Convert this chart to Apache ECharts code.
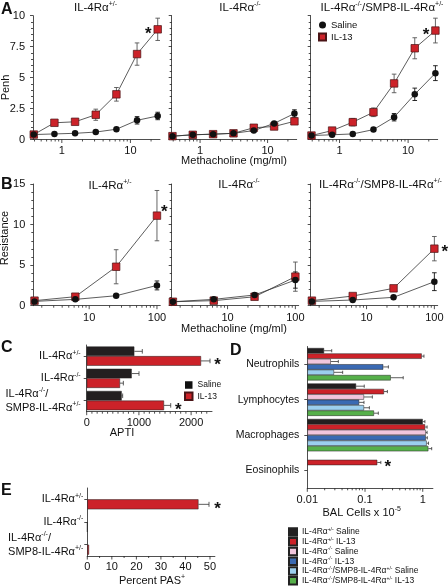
<!DOCTYPE html>
<html><head><meta charset="utf-8">
<script src="https://cdn.jsdelivr.net/npm/echarts@6/dist/echarts.min.js"></script>
<style>html,body{margin:0;padding:0;background:#fff}#c{width:448px;height:587px}</style>
</head><body><div id="c"></div>
<script>
const FONT = "'Liberation Sans', Arial, Helvetica, sans-serif";

// ---------- Panel A: Penh vs methacholine (mg/ml) ----------
const dosesA = [0.39, 0.78, 1.56, 3.125, 6.25, 12.5, 25];
const penhHetSaline    = [0.40, 0.45, 0.50, 0.60, 0.83, 1.55, 1.90];
const penhHetSalineErr = [0, 0, 0, 0.08, 0.10, 0.30, 0.30];
const penhHetIL13      = [0.40, 1.35, 1.43, 2.00, 3.65, 6.90, 8.90];
const penhHetIL13Err   = [0.08, 0.10, 0.15, 0.45, 0.55, 0.90, 0.90];
const penhKoSaline     = [0.27, 0.38, 0.43, 0.50, 0.72, 1.30, 2.10];
const penhKoSalineErr  = [0, 0, 0, 0, 0.08, 0.12, 0.30];
const penhKoIL13       = [0.27, 0.38, 0.43, 0.50, 0.95, 1.05, 1.47];
const penhKoIL13Err    = [0, 0, 0, 0, 0.10, 0.10, 0.15];
const penhTgSaline     = [0.32, 0.38, 0.45, 0.80, 1.80, 3.65, 5.36];
const penhTgSalineErr  = [0, 0, 0, 0.08, 0.30, 0.50, 0.60];
const penhTgIL13       = [0.32, 0.72, 1.40, 2.20, 4.53, 7.37, 8.80];
const penhTgIL13Err    = [0, 0.10, 0.30, 0.35, 0.75, 0.85, 1.00];

// ---------- Panel B: Resistance vs methacholine ----------
const dosesB = [1.5625, 6.25, 25, 100];
const resHetSaline    = [0.53, 0.78, 1.23, 2.50];
const resHetSalineErr = [0.10, 0.10, 0.15, 0.55];
const resHetIL13      = [0.62, 1.11, 4.80, 11.10];
const resHetIL13Err   = [0.10, 0.15, 2.10, 3.10];
const resKoSaline     = [0.49, 0.78, 1.32, 3.16];
const resKoSalineErr  = [0, 0.10, 0.15, 1.00];
const resKoIL13       = [0.49, 0.62, 1.10, 3.58];
const resKoIL13Err    = [0, 0.05, 0.10, 1.80];
const resTgSaline     = [0.53, 0.70, 1.03, 2.96];
const resTgSalineErr  = [0, 0.05, 0.10, 1.10];
const resTgIL13       = [0.62, 1.19, 2.14, 7.03];
const resTgIL13Err    = [0.10, 0.10, 0.15, 1.50];

// ---------- Panel C: APTI ----------
const groupsC = ['IL-4Rα+/-', 'IL-4Rα-/-', 'IL-4Rα-/-/\nSMP8-IL-4Rα+/-'];
const aptiSaline    = [912, 862, 670];
const aptiSalineErr = [153, 140, 19];
const aptiIL13      = [2190, 638, 1481];
const aptiIL13Err   = [172, 64, 128];
const aptiStar      = [1, 0, 1];

// ---------- Panel D: BAL cells x 10^-5 ----------
const cellTypes = ['Neutrophils', 'Lymphocytes', 'Macrophages', 'Eosinophils'];
const legendD = ['IL-4Rα+/- Saline', 'IL-4Rα+/- IL-13', 'IL-4Rα-/- Saline', 'IL-4Rα-/- IL-13',
                 'IL-4Rα-/-/SMP8-IL-4Rα+/- Saline', 'IL-4Rα-/-/SMP8-IL-4Rα+/- IL-13'];
const balHetSaline = [0.0195, 0.070, 1.00, null];
const balHetIL13   = [0.96, 0.213, 1.10, 0.163];
const balKoSaline  = [0.0255, 0.096, 1.13, null];
const balKoIL13    = [0.207, 0.079, 1.13, null];
const balTgSaline  = [0.029, 0.096, 1.17, null];
const balTgIL13    = [0.279, 0.143, 1.25, null];
const balHetSalineErr = [0.007, 0.027, 0.09, 0];
const balHetIL13Err   = [0.09, 0.031, 0.09, 0.025];
const balKoSalineErr  = [0.009, 0.038, 0.06, 0];
const balKoIL13Err    = [0.047, 0.017, 0.07, 0];
const balTgSalineErr  = [0.012, 0.023, 0.09, 0];
const balTgIL13Err    = [0.18, 0.027, 0.18, 0];
const balStarEos = [0, 0, 0, 1];

// ---------- Panel E: Percent PAS+ ----------
const groupsE = ['IL-4Rα+/-', 'IL-4Rα-/-', 'IL-4Rα-/-/\nSMP8-IL-4Rα+/-'];
const pasSaline  = [0, 0, 0];
const pasIL13    = [45.3, 0, 0.7];
const pasIL13Err = [4.3, 0, 0];
const pasStar    = [1, 0, 0];

// ---------- styling ----------
const BLACK = '#231f20', RED = '#cc2229', PINK = '#f1c6dd', BLUE = '#3a6ab3', LBLUE = '#9ccfee', GREEN = '#56b04a';
const colorsD = [BLACK, RED, PINK, BLUE, LBLUE, GREEN];

function richStyles(size) {
  const sup = Math.round(size * 0.62);
  return {
    a: {fontSize: size, fontFamily: FONT, color: '#111', fill: '#111'},
    s: {fontSize: sup, fontFamily: FONT, color: '#111', fill: '#111', padding: [0, 0, Math.round(size * 0.6), 0]},
    l: {fontSize: size, fontFamily: FONT, color: '#111', fill: '#111', align: 'left'},
    ls: {fontSize: sup, fontFamily: FONT, color: '#111', fill: '#111', align: 'left', padding: [0, 0, Math.round(size * 0.6), 0]}
  };
}
function richify(t, leftAlign) {
  const b = leftAlign ? 'l' : 'a', s = leftAlign ? 'ls' : 's';
  return t.split('\n').map(line => '{' + b + '|' + line.replace(/([+\-]\/[+\-]|\+$)/g, '}{' + s + '|$1}{' + b + '|') + '}').join('\n');
}

const grids = [
  {left: 33, top: 15.7, width: 127, height: 123.8},
  {left: 171.7, top: 15.7, width: 125, height: 123.8},
  {left: 310.7, top: 15.7, width: 127, height: 123.8},
  {left: 33.3, top: 184, width: 127, height: 121.7},
  {left: 171.7, top: 184, width: 127, height: 121.7},
  {left: 310.7, top: 184, width: 127, height: 121.7},
  {left: 86.7, top: 345, width: 125.3, height: 66.7},
  {left: 307.3, top: 346.5, width: 125.6, height: 141.8},
  {left: 87.3, top: 488, width: 127.6, height: 68}
];

const axLine = {show: true, onZero: false, lineStyle: {color: '#222', width: 0.8}};
const tickLine = {color: '#222', width: 0.8};
function logLabel(v) {
  const l = Math.log10(v);
  if (Math.abs(l - Math.round(l)) > 1e-6) return '';
  const r = Math.round(l);
  return r >= 0 ? String(Math.pow(10, r)) : (Math.pow(10, r)).toFixed(-r);
}
function logX(gi, min, max, margin) {
  return {type: 'log', gridIndex: gi, min, max, logBase: 10, axisLine: axLine,
    axisTick: {show: false}, splitLine: {show: false}, minorTick: {show: false},
    axisLabel: {fontSize: 11, color: '#111', fontFamily: FONT, margin, formatter: logLabel, showMinLabel: true, showMaxLabel: true}};
}
function valY(gi, max, interval, show) {
  return {type: 'value', gridIndex: gi, min: 0, max, interval, axisLine: axLine,
    axisTick: {show: true, length: 3, lineStyle: tickLine},
    minorTick: {show: true, splitNumber: 5, length: 2, lineStyle: tickLine},
    splitLine: {show: false}, minorSplitLine: {show: false},
    axisLabel: {show, fontSize: 11, color: '#111', fontFamily: FONT, margin: 8}};
}
function catY(gi, data, size, margin) {
  return {type: 'category', gridIndex: gi, data, inverse: true, axisLine: axLine,
    axisTick: {show: true, alignWithLabel: true, length: 3, lineStyle: tickLine},
    splitLine: {show: false},
    axisLabel: {fontSize: size, margin, color: '#111', fontFamily: FONT, rich: richStyles(size),
      formatter: v => richify(v, v.indexOf('\n') >= 0)}};
}

const xAxis = [
  logX(0, 0.38, 27, 6), logX(1, 0.38, 27, 6), logX(2, 0.38, 27, 6),
  logX(3, 1.5, 112, 7), logX(4, 1.5, 112, 7), logX(5, 1.5, 112, 7),
  {type: 'value', gridIndex: 6, min: 0, max: 2400, interval: 1000, axisLine: axLine, axisTick: {show: false},
    splitLine: {show: false}, axisLabel: {fontSize: 11, color: '#111', fontFamily: FONT, margin: 6,
      formatter: v => (v % 1000 === 0 ? String(v) : '')}},
  Object.assign(logX(7, 0.01, 1.5, 6), {startValue: 0.01}),
  {type: 'value', gridIndex: 8, min: 0, max: 52, interval: 10, axisLine: axLine, axisTick: {show: false},
    splitLine: {show: false}, axisLabel: {fontSize: 11, color: '#111', fontFamily: FONT, margin: 5,
      formatter: v => (v % 10 === 0 && v <= 50 ? String(v) : '')}}
];
const yAxis = [
  valY(0, 10, 2.5, true), valY(1, 10, 2.5, false), valY(2, 10, 2.5, false),
  valY(3, 15, 5, true), valY(4, 15, 5, false), valY(5, 15, 5, false),
  catY(6, groupsC, 11, 6), catY(7, cellTypes, 10.5, 8), catY(8, groupsE, 11, 4)
];

// ----- custom renderers -----
function tickRenderer(majLen, minLen) {
  return function (params, api) {
    const cs = params.coordSys;
    const p = api.coord([api.value(0), api.value(1)]);
    const y = cs.y + cs.height;
    const len = api.value(2) ? majLen : minLen;
    return {type: 'line', shape: {x1: p[0], y1: y, x2: p[0], y2: y + len}, style: {stroke: '#222', lineWidth: 0.8}};
  };
}
function tickSeries(gi, majors, minors, y0) {
  return {type: 'custom', xAxisIndex: gi, yAxisIndex: gi, silent: true, z: 1, clip: false,
    renderItem: tickRenderer(3.5, 2),
    data: majors.map(v => [v, y0, 1]).concat(minors.map(v => [v, y0, 0]))};
}
function logMinors(min, max) {
  const out = [];
  for (let e = -3; e <= 3; e++) for (let k = 2; k <= 9; k++) { const v = k * Math.pow(10, e); if (v >= min && v <= max) out.push(v); }
  return out;
}
function errV(color) {
  return function (params, api) {
    const x = api.value(0), y = api.value(1), e = api.value(2);
    if (!(e > 0)) return null;
    const p1 = api.coord([x, y + e]), p2 = api.coord([x, Math.max(y - e, 0)]);
    const st = {stroke: color, lineWidth: 0.9}, c = 2.3;
    return {type: 'group', children: [
      {type: 'line', shape: {x1: p1[0], y1: p1[1], x2: p2[0], y2: p2[1]}, style: st},
      {type: 'line', shape: {x1: p1[0] - c, y1: p1[1], x2: p1[0] + c, y2: p1[1]}, style: st},
      {type: 'line', shape: {x1: p2[0] - c, y1: p2[1], x2: p2[0] + c, y2: p2[1]}, style: st}
    ]};
  };
}
function errH(off, cap, starDx) {
  return function (params, api) {
    const v = api.value(0), c = api.value(1), e = api.value(2), s = api.value(3);
    const p0 = api.coord([v, c]);
    const y = p0[1] + off;
    const st = {stroke: '#333', lineWidth: 0.8};
    const ch = [];
    let end = p0[0];
    if (e > 0) {
      const pe = api.coord([v + e, c]);
      end = pe[0];
      ch.push({type: 'line', shape: {x1: p0[0], y1: y, x2: pe[0], y2: y}, style: st});
      ch.push({type: 'line', shape: {x1: pe[0], y1: y - cap, x2: pe[0], y2: y + cap}, style: st});
    }
    if (s) ch.push({type: 'text', x: end + starDx, y: y + 4.5, style: {text: '*', fontSize: 17, fontWeight: 'bold', fontFamily: FONT, fill: '#111', align: 'center', verticalAlign: 'middle', textAlign: 'center', textVerticalAlign: 'middle'}});
    return {type: 'group', children: ch};
  };
}

// ----- series builders -----
function lineSeries(gi, name, xs, ys, isIL13, star) {
  return {type: 'line', name, xAxisIndex: gi, yAxisIndex: gi, z: isIL13 ? 3 : 4,
    symbol: isIL13 ? 'rect' : 'circle', symbolSize: isIL13 ? 7.5 : 6.5,
    itemStyle: {color: isIL13 ? RED : '#111', borderColor: isIL13 ? '#4a1416' : '#111', borderWidth: isIL13 ? 0.7 : 0},
    lineStyle: {color: '#333', width: 0.8}, emphasis: {disabled: true}, silent: true,
    data: xs.map((x, i) => {
      const d = {value: [x, ys[i]]};
      if (star && star.i === i) d.label = {show: true, formatter: '*', position: star.pos, distance: star.dist,
        offset: star.off, fontSize: 17, fontWeight: 'bold', color: '#111', fontFamily: FONT};
      return d;
    })};
}
function errSeries(gi, xs, ys, es, color) {
  return {type: 'custom', xAxisIndex: gi, yAxisIndex: gi, z: 2, silent: true, renderItem: errV(color),
    data: xs.map((x, i) => [x, ys[i], es[i]])};
}
function dosePanel(gi, xs, sal, salE, il, ilE, star) {
  return [
    errSeries(gi, xs, il, ilE, '#555'),
    errSeries(gi, xs, sal, salE, '#111'),
    lineSeries(gi, 'IL-13', xs, il, true, star),
    lineSeries(gi, 'Saline', xs, sal, false, null)
  ];
}

const series = [];
// ticks on x axes
const minA = logMinors(0.38, 27), minB = logMinors(1.5, 112);
for (let g = 0; g < 3; g++) series.push(tickSeries(g, [1, 10], minA, 0));
for (let g = 3; g < 6; g++) series.push(tickSeries(g, [10, 100], minB, 0));
const minC = []; for (let v = 100; v < 2400; v += 100) if (v % 1000) minC.push(v);
series.push(tickSeries(6, [0, 1000, 2000], minC, 0));
series.push(tickSeries(7, [0.01, 0.1, 1], logMinors(0.01, 1.5), 0));
series.push(tickSeries(8, [0, 10, 20, 30, 40, 50], [5, 15, 25, 35, 45], 0));

// panel A
series.push(...dosePanel(0, dosesA, penhHetSaline, penhHetSalineErr, penhHetIL13, penhHetIL13Err, {i: 6, pos: 'left', dist: 2, off: [0, 5]}));
series.push(...dosePanel(1, dosesA, penhKoSaline, penhKoSalineErr, penhKoIL13, penhKoIL13Err, null));
series.push(...dosePanel(2, dosesA, penhTgSaline, penhTgSalineErr, penhTgIL13, penhTgIL13Err, {i: 6, pos: 'left', dist: 2, off: [0, 5]}));
// panel B
series.push(...dosePanel(3, dosesB, resHetSaline, resHetSalineErr, resHetIL13, resHetIL13Err, {i: 3, pos: 'right', dist: 0, off: [0, -3.5]}));
series.push(...dosePanel(4, dosesB, resKoSaline, resKoSalineErr, resKoIL13, resKoIL13Err, null));
series.push(...dosePanel(5, dosesB, resTgSaline, resTgSalineErr, resTgIL13, resTgIL13Err, {i: 3, pos: 'right', dist: 3, off: [0, 4]}));

// panel C
const bwC = 9.6;
const barStyle = c => ({color: c, borderColor: '#222', borderWidth: 0.5});
series.push({type: 'bar', name: 'Saline', xAxisIndex: 6, yAxisIndex: 6, barWidth: bwC, barGap: '0%', itemStyle: barStyle(BLACK), data: aptiSaline, silent: true});
series.push({type: 'bar', name: 'IL-13', xAxisIndex: 6, yAxisIndex: 6, barWidth: bwC, barGap: '0%', itemStyle: barStyle(RED), data: aptiIL13, silent: true});
series.push({type: 'custom', xAxisIndex: 6, yAxisIndex: 6, z: 3, silent: true, renderItem: errH(-bwC / 2, 2.3, 7.5),
  data: aptiSaline.map((v, i) => [v, i, aptiSalineErr[i], 0])});
series.push({type: 'custom', xAxisIndex: 6, yAxisIndex: 6, z: 3, silent: true, renderItem: errH(bwC / 2, 2.3, 7.5),
  data: aptiIL13.map((v, i) => [v, i, aptiIL13Err[i], aptiStar[i]])});

// panel D
const bwD = 5.4;
const valsD = [balHetSaline, balHetIL13, balKoSaline, balKoIL13, balTgSaline, balTgIL13];
const errsD = [balHetSalineErr, balHetIL13Err, balKoSalineErr, balKoIL13Err, balTgSalineErr, balTgIL13Err];
valsD.forEach((vals, k) => {
  series.push({type: 'bar', name: legendD[k], xAxisIndex: 7, yAxisIndex: 7, barWidth: bwD, barGap: '0%',
    itemStyle: barStyle(colorsD[k]), data: vals, silent: true});
  const ed = [];
  vals.forEach((v, i) => { if (v != null) ed.push([v, i, errsD[k][i], k === 1 ? balStarEos[i] : 0]); });
  series.push({type: 'custom', xAxisIndex: 7, yAxisIndex: 7, z: 3, silent: true,
    renderItem: errH((k - 2.5) * bwD, 1.6, 7), data: ed});
});

// panel E
const bwE = 10;
series.push({type: 'bar', name: 'Saline', xAxisIndex: 8, yAxisIndex: 8, barWidth: bwE, barGap: '0%', itemStyle: {color: BLACK}, data: pasSaline, silent: true});
series.push({type: 'bar', name: 'IL-13', xAxisIndex: 8, yAxisIndex: 8, barWidth: bwE, barGap: '0%', itemStyle: barStyle(RED), data: pasIL13, silent: true});
series.push({type: 'custom', xAxisIndex: 8, yAxisIndex: 8, z: 3, silent: true, renderItem: errH(bwE / 2, 2.5, 8.5),
  data: pasIL13.map((v, i) => [v, i, pasIL13Err[i], pasStar[i]])});

// ----- free text -----
function gtext(x, y, text, o) {
  o = o || {};
  const size = o.size || 11;
  return {type: 'text', x, y, rotation: o.rot || 0, silent: true, z: 10,
    style: {text, fontSize: size, fontFamily: FONT, fontWeight: o.bold ? 'bold' : 'normal', fill: '#111',
      align: o.align || 'center', verticalAlign: 'middle', textAlign: o.align || 'center', textVerticalAlign: 'middle',
      rich: richStyles(size)}};
}
const graphic = [
  gtext(1, 9.5, 'A', {bold: true, size: 16, align: 'left'}),
  gtext(95.5, 8, richify('IL-4Rα+/-'), {size: 11.5}),
  gtext(240, 8, richify('IL-4Rα-/-'), {size: 11.5}),
  gtext(382, 8, richify('IL-4Rα-/-/SMP8-IL-4Rα+/-'), {size: 11.5}),
  gtext(6, 87.5, 'Penh', {rot: Math.PI / 2}),
  gtext(234, 161, 'Methacholine (mg/ml)'),
  gtext(1, 185, 'B', {bold: true, size: 16, align: 'left'}),
  gtext(110, 186, richify('IL-4Rα+/-'), {size: 11.5}),
  gtext(239, 185, richify('IL-4Rα-/-'), {size: 11.5}),
  gtext(380.5, 185, richify('IL-4Rα-/-/SMP8-IL-4Rα+/-'), {size: 11.5}),
  gtext(5, 238, 'Resistance', {rot: Math.PI / 2}),
  gtext(234, 329, 'Methacholine (mg/ml)'),
  gtext(1, 348, 'C', {bold: true, size: 16, align: 'left'}),
  gtext(122, 433, 'APTI'),
  gtext(230, 351, 'D', {bold: true, size: 16, align: 'left'}),
  gtext(361.7, 513, '{a|BAL Cells x 10}{s|-5}'),
  gtext(1, 491, 'E', {bold: true, size: 16, align: 'left'}),
  gtext(152, 581, '{a|Percent PAS}{s|+}')
];

const legend = [
  {left: 318, top: 20, orient: 'vertical', itemWidth: 7, itemHeight: 7, itemGap: 2, padding: 0, selectedMode: false,
    textStyle: {fontSize: 9.5, fontFamily: FONT, color: '#111'},
    data: [{name: 'Saline', icon: 'circle'}, {name: 'IL-13', icon: 'rect'}]},
  {left: 184, top: 380.5, orient: 'vertical', itemWidth: 7.5, itemHeight: 7.5, itemGap: 2, padding: 0, selectedMode: false,
    textStyle: {fontSize: 8.5, fontFamily: FONT, color: '#111'},
    data: [{name: 'Saline', icon: 'rect'}, {name: 'IL-13', icon: 'rect'}]},
  {left: 288, top: 527, orient: 'vertical', itemWidth: 8, itemHeight: 7.5, itemGap: 0, padding: 0, selectedMode: false,
    textStyle: {fontSize: 8.5, fontFamily: FONT, color: '#111', rich: richStyles(8.5)},
    formatter: n => richify(n),
    data: legendD.map(n => ({name: n, icon: 'rect'}))}
];

const chart = echarts.init(document.getElementById('c'), null, {renderer: 'canvas'});
chart.setOption({
  animation: false,
  backgroundColor: '#fff',
  textStyle: {fontFamily: FONT},
  grid: grids.map(g => Object.assign({containLabel: false, outerBoundsMode: 'none'}, g)),
  xAxis, yAxis, series, legend, graphic
});
</script>
</body></html>
